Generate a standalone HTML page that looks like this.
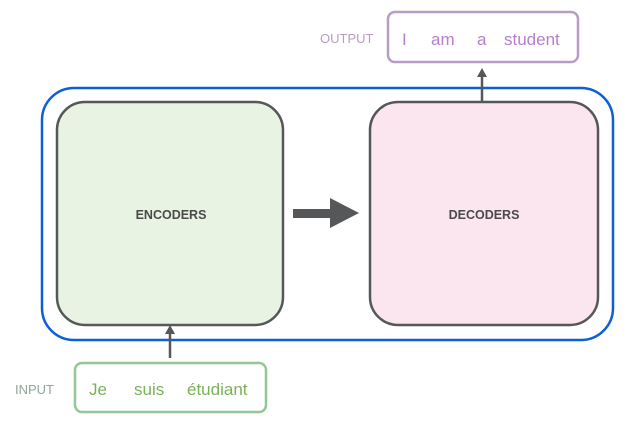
<!DOCTYPE html>
<html><head><style>
body{margin:0;background:#fff;width:637px;height:424px;overflow:hidden;font-family:"Liberation Sans","DejaVu Sans",sans-serif}
</style></head><body>
<svg width="637" height="424" xmlns="http://www.w3.org/2000/svg">
<rect x="42" y="88" width="571" height="252" rx="32" fill="none" stroke="#0c5fd8" stroke-width="2.5"/>
<rect x="57" y="102" width="226" height="223" rx="28" fill="#e8f3e3" stroke="#555759" stroke-width="2.5"/>
<rect x="370" y="102" width="228" height="223" rx="28" fill="#fbe6ef" stroke="#555759" stroke-width="2.5"/>
<text x="171" y="219" text-anchor="middle" font-size="12.5" font-weight="bold" fill="#4a4a4a">ENCODERS</text>
<text x="484" y="219" text-anchor="middle" font-size="12.5" font-weight="bold" fill="#4a4a4a">DECODERS</text>
<rect x="293" y="209" width="38" height="9" fill="#555759"/>
<polygon points="330,198 359,213 330,228" fill="#555759"/>
<rect x="388" y="12" width="190" height="50" rx="7" fill="#fff" stroke="#b89cc8" stroke-width="2.5"/>
<text x="320" y="43" font-size="13" fill="#b89cc8">OUTPUT</text>
<text y="45" font-size="17" fill="#b57fcc"><tspan x="402">I</tspan><tspan x="431">am</tspan><tspan x="477">a</tspan><tspan x="504">student</tspan></text>
<line x1="482" y1="101" x2="482" y2="76" stroke="#555759" stroke-width="2.5"/>
<polygon points="477,77 482,68 487,77" fill="#555759"/>
<rect x="75" y="363" width="191" height="49" rx="7" fill="#fff" stroke="#96c596" stroke-width="2.5"/>
<text x="15" y="394" font-size="13" fill="#8fa79a">INPUT</text>
<text y="395" font-size="17" fill="#7ab25a"><tspan x="89">Je</tspan><tspan x="134">suis</tspan><tspan x="187">étudiant</tspan></text>
<line x1="170" y1="358" x2="170" y2="333" stroke="#555759" stroke-width="2.5"/>
<polygon points="165,334 170,325 175,334" fill="#555759"/>
</svg>
</body></html>
